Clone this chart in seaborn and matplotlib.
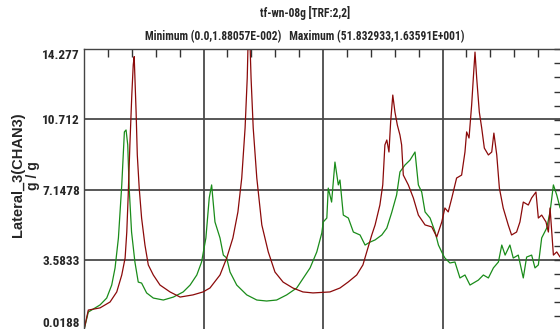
import matplotlib
matplotlib.use("Agg")
import matplotlib.pyplot as plt
from matplotlib.ticker import MultipleLocator, FixedLocator
from matplotlib import font_manager as fm
import pandas as pd
import seaborn as sns

# ---- data ----
red_x = [0.0, 1.8, 6.7, 10.9, 13.7, 15.8, 17.2, 17.9, 18.5, 19.2, 20.0, 20.6, 21.0, 21.8, 22.3,
         23.1, 24.1, 25.5, 26.9, 29.0, 31.8, 36.0, 40.2, 45.6, 49.8, 52.7, 56.9, 59.7, 62.3,
         64.4, 66.0, 67.4, 68.3, 69.0, 69.9, 70.8, 72.3, 74.4, 77.1, 79.9, 83.3, 87.4, 91.6,
         95.8, 102.9, 107.1, 110.5, 114.1, 116.7, 118.3, 120.4, 121.8, 123.8, 125.0, 125.9,
         126.7, 127.6, 128.3, 129.2, 130.1, 131.1, 132.2, 132.9, 133.6, 135.7, 137.8, 139.9,
         142.7, 145.5, 147.6, 149.7, 151.0, 152.4, 153.9, 155.9, 158.0, 159.4, 160.1, 161.1,
         162.2, 162.9, 163.6, 164.3, 165.4, 166.4, 167.5, 169.2, 170.6, 171.5, 172.7, 173.8,
         175.4, 177.5, 178.9, 181.0, 182.4, 183.8, 185.9, 187.3, 189.1, 190.1, 191.5, 193.3,
         194.3, 195.0, 196.4, 197.8, 199.2]
red_y = [0.02, 1.03, 1.14, 1.44, 1.95, 2.81, 3.67, 4.99, 6.87, 9.41, 11.94, 13.47, 13.89, 11.08, 8.90,
         7.22, 5.70, 4.33, 3.32, 2.81, 2.30, 1.95, 1.69, 1.80, 1.95, 2.15, 2.81, 3.67, 4.69,
         6.01, 7.73, 10.27, 12.81, 16.36, 12.81, 10.27, 7.73, 5.35, 3.98, 2.96, 2.45, 2.15, 1.95,
         1.90, 1.95, 2.15, 2.45, 2.81, 3.32, 3.98, 4.84, 5.35, 6.36, 7.38, 9.41,
         9.66, 9.05, 10.57, 11.94, 11.08, 10.42, 9.91, 9.41, 7.88, 7.38, 6.72, 5.85,
         5.35, 5.25, 4.74, 5.50, 6.21, 6.01, 6.72, 7.73, 7.88, 9.05, 10.07, 9.76,
         11.44, 12.81, 14.12, 12.81, 11.08, 10.27, 9.25, 8.90, 9.05, 10.01, 8.90, 7.22,
         6.21, 5.35, 4.84, 4.99, 5.50, 6.51, 6.36, 6.72, 7.02, 5.70, 5.85, 5.50,
         4.99, 6.21, 3.82, 3.98, 3.72]

green_x = [0.0, 1.8, 6.7, 9.5, 11.6, 13.0, 14.4, 15.8, 16.9, 17.6, 18.3, 18.9, 19.9, 21.3, 22.7,
           24.1, 26.2, 29.0, 33.2, 37.4, 41.5, 44.4, 47.2, 49.2, 51.0, 52.4, 53.4, 54.8, 56.9,
           58.3, 59.7, 61.1, 63.9, 68.1, 72.3, 76.4, 80.6, 84.8, 89.0, 91.8, 94.6, 97.4, 99.5,
           100.1, 101.6, 102.2, 103.6, 105.0, 106.4, 107.1, 108.5, 110.6, 112.7, 115.5, 117.6,
           119.7, 121.8, 124.6, 126.7, 128.7, 130.8, 132.2, 134.3, 136.4, 138.5, 139.9, 141.3,
           142.7, 144.8, 146.9, 148.3, 150.3, 151.0, 153.1, 155.2, 157.3, 159.4, 161.5, 162.9,
           165.0, 167.1, 169.2, 171.3, 173.4, 174.8, 176.2, 178.2, 179.6, 181.7, 183.8, 185.2,
           187.3, 188.7, 190.1, 191.5, 193.6, 195.0, 196.4, 197.8, 199.2]
green_y = [0.02, 0.93, 1.29, 1.64, 2.30, 3.17, 4.69, 7.38, 10.07, 10.17, 9.41, 7.22, 4.99, 3.47, 2.45,
           2.40, 1.90, 1.64, 1.54, 1.69, 1.95, 2.30, 2.81, 3.47, 4.69, 6.72, 7.38, 5.50, 4.69,
           3.82, 3.67, 2.96, 2.30, 1.80, 1.54, 1.49, 1.54, 1.80, 2.15, 2.66, 3.17, 3.98, 4.94,
           5.50, 5.70, 7.22, 6.51, 8.54, 7.38, 7.63, 5.85, 5.70, 4.99, 4.84, 4.33,
           4.48, 4.59, 4.84, 5.19, 5.96, 6.87, 8.04, 8.39, 8.64, 9.05, 7.38, 7.02,
           6.01, 5.70, 4.99, 4.33, 3.82, 3.67, 3.42, 3.47, 2.66, 2.81, 2.30, 2.40,
           2.55, 2.81, 2.66, 3.17, 3.47, 4.33, 3.82, 4.33, 3.67, 3.82, 2.66, 3.72,
           3.82, 3.17, 3.32, 4.69, 5.19, 6.01, 7.38, 6.87, 6.21]

y_ticks = [0.0188, 3.5833, 7.1478, 10.712, 14.277]
y_labels = ["0.0188", "3.5833", "7.1478", "10.712", "14.277"]
title1 = "tf-wn-08g [TRF:2,2]"
title2 = "Minimum (0.0,1.88057E-002)   Maximum (51.832933,1.63591E+001)"
ylabel1 = "Lateral_3(CHAN3)"
ylabel2 = "g / g"

sns.set_style("white")
plt.rcParams['font.family'] = ['DejaVu Sans']

# pick a condensed face if one is installed
names = {f.name for f in fm.fontManager.ttflist}
narrow = None
for cand in ["Liberation Sans Narrow", "Roboto Condensed", "Open Sans Condensed", "DejaVu Sans Condensed"]:
    if cand in names:
        narrow = cand
        break
if narrow is None:
    narrow = "DejaVu Sans"
fp_title = fm.FontProperties(family=narrow, weight="bold", stretch="condensed", size=8.3)
fp_tick = fm.FontProperties(family=narrow, weight="bold", stretch="condensed", size=9.5)

fig = plt.figure(figsize=(5.6, 3.29), dpi=100)
ax = fig.add_axes([84 / 560, -1 / 329, 478 / 560, 281 / 329])

df_r = pd.DataFrame({"x": red_x, "y": red_y})
df_g = pd.DataFrame({"x": green_x, "y": green_y})
sns.lineplot(data=df_g, x="x", y="y", ax=ax, color="#1a8c1a", lw=0.9)
sns.lineplot(data=df_r, x="x", y="y", ax=ax, color="#8b0a0a", lw=0.9)

ax.set_xlim(0, 200)
ax.set_ylim(y_ticks[0], y_ticks[-1])
ax.yaxis.set_major_locator(FixedLocator(y_ticks))
ax.set_yticklabels(y_labels, fontproperties=fp_tick)
ax.yaxis.set_minor_locator(MultipleLocator((y_ticks[1] - y_ticks[0]) / 5))
ax.xaxis.set_major_locator(MultipleLocator(50))
ax.xaxis.set_minor_locator(MultipleLocator(10))
ax.set_xticklabels([])
ax.tick_params(which="both", direction="in", top=True, right=True, length=6, width=1, color="#333333")
ax.tick_params(axis="y", which="major", length=0, pad=3)
ax.tick_params(axis="x", which="major", length=0)
ax.grid(True, which="major", color="#4a4a4a", lw=1.3)
ax.set_axisbelow(True)
for s in ax.spines.values():
    s.set_color("#444444")
    s.set_linewidth(1.0)

labs = ax.get_yticklabels()
labs[-1].set_va("top")
labs[0].set_va("bottom")

ax.set_xlabel("")
ax.set_ylabel("")

fig.text(305 / 560, 1 - 13 / 329, title1, ha="center", va="center", fontproperties=fp_title)
fig.text(305 / 560, 1 - 37 / 329, title2, ha="center", va="center", fontproperties=fp_title)
fig.text(18 / 560, 1 - 175 / 329, ylabel1, rotation=90, ha="center", va="center", fontsize=10.5,
         fontweight="bold", family=["Liberation Sans", "DejaVu Sans"])
fig.text(33 / 560, 1 - 176 / 329, ylabel2, rotation=90, ha="center", va="center", fontsize=10,
         fontweight="bold", family=["Liberation Sans", "DejaVu Sans"])

fig.savefig("out.png", dpi=100)
